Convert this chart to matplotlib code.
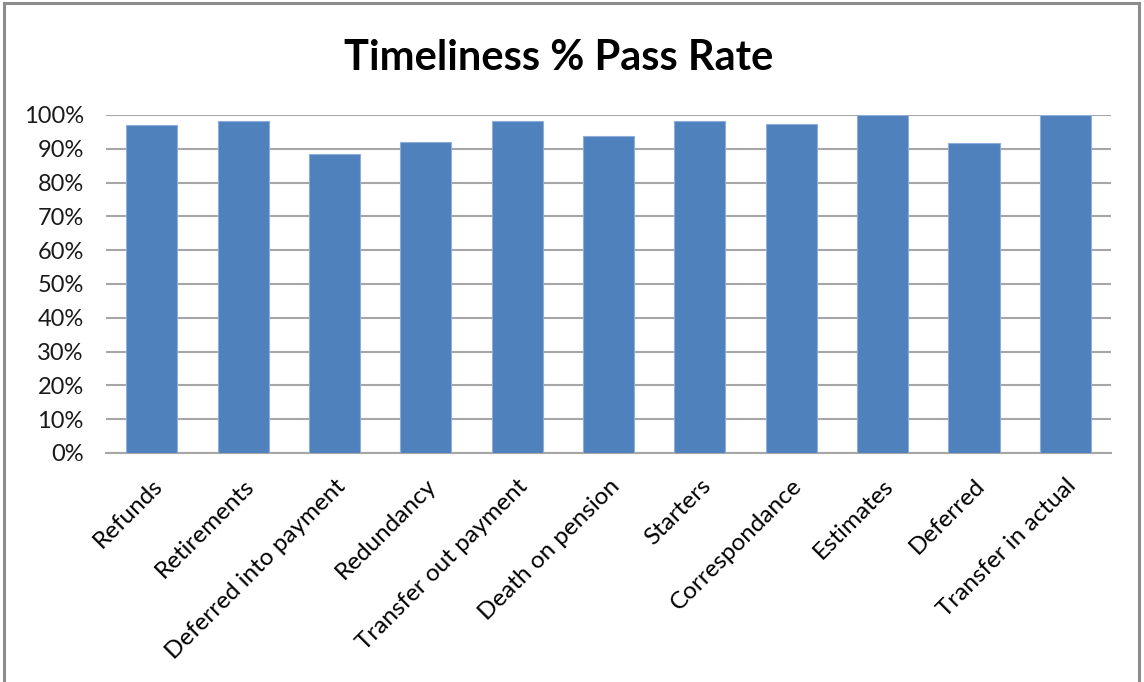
import matplotlib.pyplot as plt
import matplotlib.patches as patches
from matplotlib.ticker import PercentFormatter, MultipleLocator

# timeliness pass rate per process
categories = ["Refunds", "Retirements", "Deferred into payment", "Redundancy",
              "Transfer out payment", "Death on pension", "Starters",
              "Correspondance", "Estimates", "Deferred", "Transfer in actual"]
pass_rate = [0.970, 0.981, 0.884, 0.921, 0.981, 0.937, 0.981, 0.974, 1.000, 0.916, 1.000]

plt.rcParams['font.family'] = ['Lato', 'DejaVu Sans']

fig = plt.figure(figsize=(11.44, 6.82), dpi=100)
ax = fig.add_axes([0.0927, 0.3358, 0.8785, 0.4956])

x = range(len(categories))
ax.bar(x, pass_rate, width=0.56, color='#4F81BD', edgecolor='#8EAEDA', linewidth=0.8, zorder=3)

ax.set_ylim(0, 1)
ax.set_xlim(-0.5, len(categories) - 0.5)
ax.yaxis.set_major_locator(MultipleLocator(0.1))
ax.yaxis.set_major_formatter(PercentFormatter(1.0, decimals=0))
ax.grid(axis='y', color='#A6A6A6', linewidth=1.5, zorder=0)

ax.set_xticks(list(x))
ax.set_xticklabels(categories, rotation=45, ha='right', rotation_mode='anchor', fontsize=17.5)
ax.tick_params(axis='x', length=0, pad=16)
ax.tick_params(axis='y', length=0, pad=16, labelsize=17, labelcolor='#1a1a1a')

for side in ['top', 'right', 'left']:
    ax.spines[side].set_visible(False)
ax.spines['bottom'].set_color('#A6A6A6')
ax.spines['bottom'].set_linewidth(1.5)

fig.text(0.488, 0.915, "Timeliness % Pass Rate", ha='center', va='center',
         fontsize=30, fontweight='bold')

# outer chart frame
frame = patches.Rectangle((4 / 1144, -0.02), 1135 / 1144, 1 - 3 / 682 + 0.02,
                          transform=fig.transFigure, fill=False,
                          edgecolor='#8C8C8C', linewidth=2.2)
fig.patches.append(frame)

fig.savefig("out.png", dpi=100)
